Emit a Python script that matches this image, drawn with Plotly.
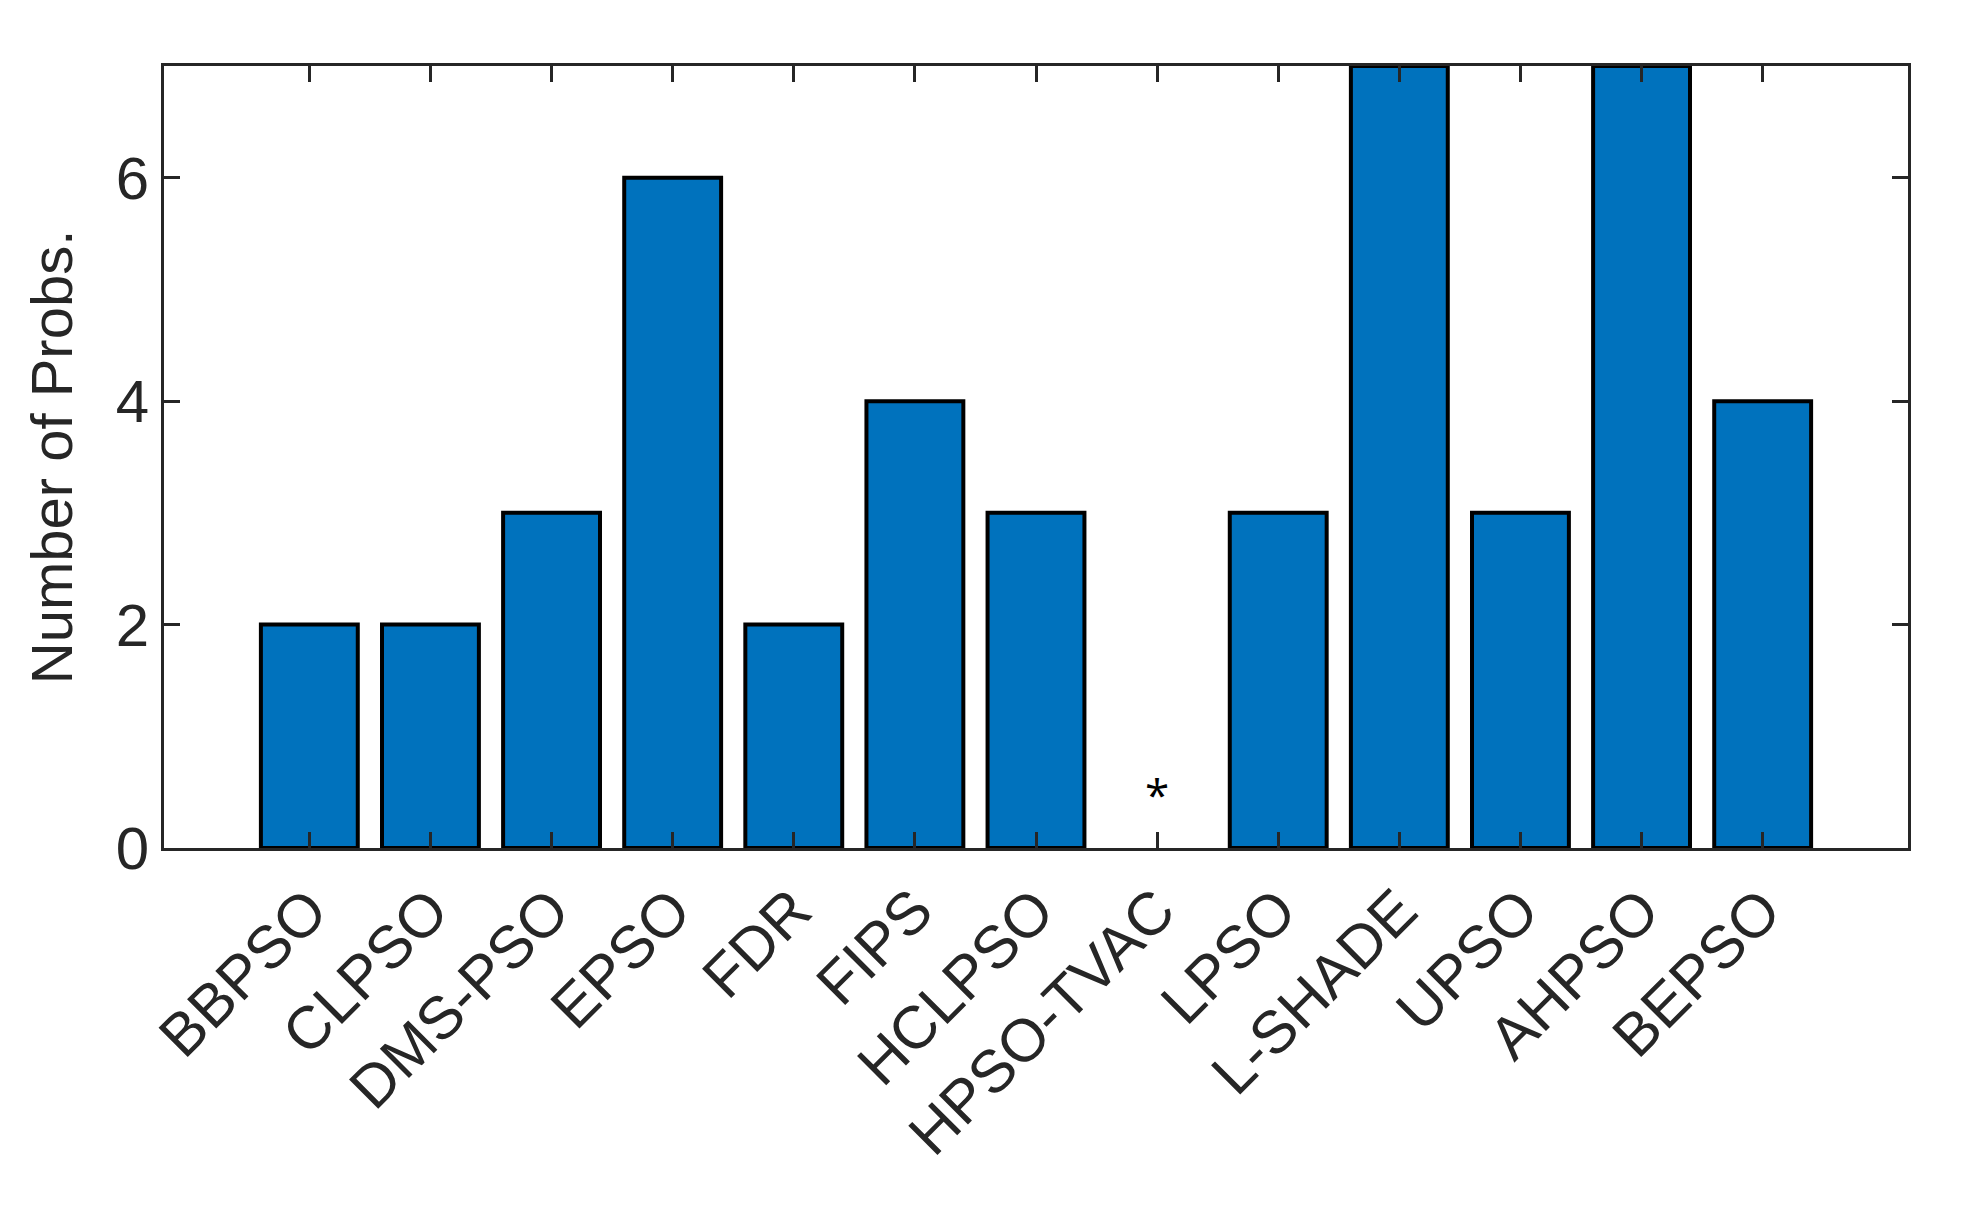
import plotly.graph_objects as go

categories = ["BBPSO","CLPSO","DMS-PSO","EPSO","FDR","FIPS","HCLPSO","HPSO-TVAC","LPSO","L-SHADE","UPSO","AHPSO","BEPSO"]
values = [2,2,3,6,2,4,3,0,3,7,3,7,4]
y_ticks = [0,2,4,6]

xs = list(range(len(categories)))
line_widths = [4 if v > 0 else 0 for v in values]
fig = go.Figure(go.Bar(x=xs, y=values, width=0.8, marker=dict(color="#0072BD", line=dict(color="black", width=line_widths))))
zero_idx = [i for i, v in enumerate(values) if v == 0]
for i in zero_idx:
    fig.add_annotation(x=i, y=0.2, text="*", showarrow=False, font=dict(size=44, color="black"), yanchor="bottom")

axis_common = dict(showline=True, linecolor="#262626", linewidth=3, mirror="ticks", ticks="inside",
                   ticklen=16, tickwidth=3, tickcolor="#262626", showgrid=False, zeroline=False,
                   tickfont=dict(family="Liberation Sans", size=60, color="#262626"))
fig.update_xaxes(range=[-1.2, 13.2], tickvals=xs, ticktext=categories, tickangle=-45, **axis_common)
fig.update_yaxes(range=[0, 7], tickvals=y_ticks, title=dict(text="Number of Probs.", font=dict(family="Liberation Sans", size=58, color="#262626"), standoff=25), **axis_common)
fig.update_layout(width=1963, height=1231, plot_bgcolor="white", paper_bgcolor="white",
                  margin=dict(l=156, r=63, t=58, b=391), showlegend=False)
fig.write_html("out.html")
